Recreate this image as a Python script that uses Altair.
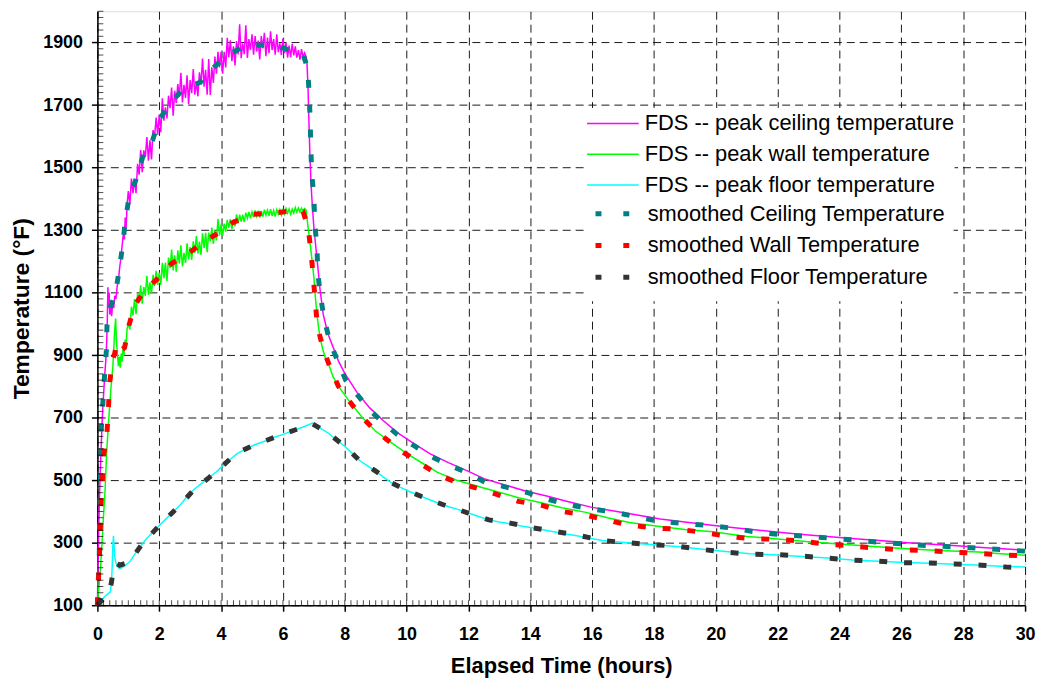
import altair as alt
import pandas as pd

# ---------------- series names / colours ----------------
fds_series = [
    "FDS -- peak ceiling temperature",
    "FDS -- peak wall temperature",
    "FDS -- peak floor temperature",
]
fds_colors = ["#FF00FF", "#00FF00", "#00FFFF"]
smooth_series = [
    "smoothed Ceiling Temperature",
    "smoothed Wall Temperature",
    "smoothed Floor Temperature",
]
smooth_colors = ["#008080", "#FF0000", "#333333"]

# ---------------- axis ticks ----------------
x_major = list(range(0, 31, 2))
y_major = list(range(100, 2000, 200))
x_minor = [round(i * 0.2, 1) for i in range(151)]
y_minor = list(range(100, 2001, 20))

# ---------------- FDS ceiling (noisy) ----------------
ceil_t_early = [0, 0.03, 0.06, 0.09, 0.12, 0.15, 0.18, 0.21, 0.24, 0.27, 0.30, 0.32, 0.34, 0.36, 0.38,
                0.40, 0.43, 0.46, 0.50, 0.53, 0.56, 0.60, 0.64, 0.68, 0.72, 0.76, 0.80, 0.84, 0.87,
                0.90, 0.93, 0.96]
ceil_v_early = [100, 280, 420, 520, 600, 680, 740, 790, 840, 880, 940, 1010, 1117, 1050, 1100,
                1030, 1060, 1025, 1070, 1050, 1090, 1080, 1120, 1140, 1180, 1210, 1250, 1290, 1270,
                1340, 1310, 1380]
noisy_t = [round(1.0 + 0.05 * i, 2) for i in range(115)]
ceil_v_noisy = [1425, 1383, 1465, 1418, 1460, 1418, 1512, 1477, 1556, 1485, 1555, 1534, 1598, 1522,
                1587, 1526, 1620, 1600, 1660, 1605, 1670, 1613, 1722, 1650, 1693, 1657, 1730, 1690,
                1756, 1666, 1746, 1707, 1767, 1727, 1803, 1708, 1765, 1723, 1795, 1703, 1780, 1738,
                1815, 1733, 1775, 1728, 1805, 1765, 1849, 1759, 1813, 1733, 1847, 1732, 1821, 1771,
                1855, 1800, 1870, 1820, 1870, 1800, 1870, 1820, 1915, 1853, 1907, 1840, 1888, 1827,
                1905, 1862, 1958, 1850, 1897, 1863, 1955, 1851, 1911, 1876, 1926, 1861, 1921, 1871,
                1906, 1846, 1921, 1881, 1931, 1856, 1916, 1866, 1936, 1876, 1911, 1861, 1926, 1869,
                1897, 1860, 1913, 1866, 1899, 1852, 1890, 1853, 1896, 1859, 1888, 1852, 1876, 1845,
                1879, 1853, 1867]
ceil_t_late = [6.75, 6.78, 6.81, 6.84, 6.87, 6.90, 6.93, 6.96, 7.00, 7.06, 7.12, 7.20, 7.30, 7.45,
               7.62, 7.80, 8.00, 8.40, 8.80, 9.25, 9.70, 10.25, 10.75, 11.35, 12.0, 12.5, 13.2, 13.9,
               14.5, 15.2, 16.0, 16.8, 17.5, 18.2, 19.0, 19.8, 20.6, 21.4, 22.2, 23.0, 23.8, 24.6,
               25.4, 26.2, 27.0, 27.8, 28.6, 29.4, 30.0]
ceil_v_late = [1855, 1830, 1760, 1650, 1550, 1470, 1410, 1365, 1310, 1250, 1191, 1110, 1032, 970,
               926, 880, 842, 780, 732, 690, 652, 616, 585, 556, 528, 505, 484, 464,
               450, 432, 413, 400, 388, 376, 366, 357, 348, 340, 332, 325, 318, 312,
               306, 300, 295, 290, 285, 280, 276]

# ---------------- FDS wall (noisy) ----------------
wall_t_early = [0, 0.05, 0.10, 0.15, 0.20, 0.25, 0.30, 0.35, 0.40, 0.45, 0.50, 0.53, 0.56, 0.59,
                0.62, 0.65, 0.68, 0.71, 0.74, 0.77, 0.80, 0.83, 0.86, 0.90, 0.93, 0.96]
wall_v_early = [100, 160, 220, 300, 390, 470, 590, 670, 740, 810, 863, 920, 980, 1017,
                940, 900, 865, 895, 860, 905, 880, 925, 900, 950, 930, 985]
wall_v_noisy = [1000, 982, 1055, 1027, 1079, 1031, 1099, 1071, 1123, 1065, 1118, 1090, 1154, 1093,
                1133, 1097, 1157, 1121, 1170, 1125, 1164, 1125, 1195, 1146, 1196, 1137, 1212, 1178,
                1238, 1171, 1219, 1167, 1235, 1193, 1251, 1184, 1227, 1195, 1258, 1206, 1246, 1205,
                1264, 1227, 1281, 1225, 1263, 1221, 1290, 1243, 1291, 1229, 1292, 1265, 1308, 1256,
                1299, 1267, 1335, 1283, 1318, 1282, 1321, 1295, 1333, 1307, 1335, 1303, 1335, 1312,
                1350, 1322, 1349, 1327, 1349, 1326, 1356, 1338, 1358, 1338, 1358, 1341, 1363, 1344,
                1362, 1340, 1361, 1343, 1365, 1348, 1364, 1346, 1367, 1345, 1363, 1343, 1366, 1351,
                1365, 1348, 1364, 1351, 1369, 1354, 1368, 1351, 1367, 1354, 1372, 1357, 1371, 1358,
                1370, 1361, 1369]
wall_t_late = [6.75, 6.80, 6.85, 6.90, 6.95, 7.00, 7.05, 7.10, 7.15, 7.20, 7.28, 7.36, 7.50, 7.62,
               7.79, 8.15, 8.54, 8.98, 9.45, 9.96, 10.5, 11.0, 11.62, 12.32, 12.96, 13.62, 14.35,
               15.02, 15.8, 16.5, 17.2, 18.0, 19.0, 19.9, 21.0, 22.0, 23.0, 24.2, 25.2, 26.3, 27.4,
               28.5, 29.2, 30.0]
wall_v_late = [1364, 1320, 1280, 1240, 1195, 1150, 1085, 1030, 990, 958, 921, 895, 865, 831,
               801, 752, 704, 658, 624, 588, 555, 525, 500, 480, 462, 444, 428,
               412, 397, 380, 365, 354, 342, 335, 320, 312, 303, 294, 287, 280, 274,
               270, 265, 260]

# ---------------- FDS floor ----------------
floor_t = [0, 0.10, 0.23, 0.35, 0.42, 0.46, 0.48, 0.50, 0.52, 0.54, 0.56, 0.60, 0.66, 0.72, 0.80,
           0.90, 1.04, 1.20, 1.41, 1.60, 1.84, 2.05, 2.27, 2.50, 2.70, 2.90, 3.13, 3.40, 3.61, 3.85,
           4.04, 4.30, 4.52, 4.80, 5.11, 5.45, 5.75, 6.05, 6.34, 6.65, 6.96, 7.05, 7.25, 7.46, 7.75,
           8.02, 8.25, 8.48, 8.75, 9.00, 9.25, 9.50, 9.80, 10.09, 10.40, 10.70, 11.00, 11.34, 11.70,
           12.00, 12.33, 12.66, 13.00, 13.39, 13.75, 14.11, 14.50, 15.00, 15.50, 16.00, 16.33, 17.13,
           17.91, 18.74, 19.51, 20.32, 21.10, 21.96, 22.81, 23.61, 24.42, 25.24, 26.08, 26.92, 27.74,
           28.59, 29.39, 30.0]
floor_v = [100, 112, 127, 137, 143, 180, 227, 290, 322, 290, 255, 235, 222, 217, 220,
           228, 238, 262, 291, 314, 338, 360, 381, 403, 423, 448, 471, 492, 508, 527,
           545, 567, 585, 600, 614, 626, 638, 648, 659, 670, 683, 678, 664, 651, 627,
           607, 585, 563, 545, 529, 510, 492, 477, 464, 451, 439, 428, 416, 405,
           395, 384, 373, 366, 360, 353, 347, 340, 330, 322, 313, 307, 300,
           294, 288, 280, 272, 265, 261, 256, 251, 245, 241, 237, 234, 231,
           228, 224, 222]

# ---------------- smoothed curves ----------------
sc_t = [0, 0.03, 0.06, 0.074, 0.085, 0.10, 0.12, 0.13, 0.18, 0.23, 0.29, 0.31, 0.42, 0.59, 0.72, 0.82,
        0.91, 1.02, 1.25, 1.47, 1.79, 2.00, 2.32, 2.75, 3.34, 3.77, 4.20, 4.79, 5.38, 5.80, 6.43, 6.65,
        6.80, 6.85, 6.88, 6.90, 6.93, 7.00, 7.03, 7.10, 7.13, 7.22, 7.34, 7.52, 7.76, 8.03, 8.41, 8.78,
        9.23, 9.70, 10.23, 10.76, 11.34, 11.96, 12.53, 13.22, 13.92, 14.53, 15.21, 15.98, 16.76, 17.51,
        18.21, 19.00, 19.81, 20.58, 21.37, 22.14, 23.00, 23.78, 24.56, 25.35, 26.18, 27.00, 27.82,
        28.65, 29.48, 30.0]
sc_v = [100, 180, 259, 344, 439, 513, 590, 670, 752, 831, 916, 995, 1053, 1101, 1180, 1255,
        1334, 1403, 1463, 1535, 1589, 1652, 1703, 1748, 1774, 1821, 1859, 1890, 1892, 1890, 1867, 1862,
        1818, 1732, 1655, 1570, 1482, 1408, 1323, 1244, 1161, 1085, 1013, 942, 884, 820, 773, 727,
        685, 646, 611, 577, 550, 524, 494, 478, 460, 440, 422, 408, 397, 381,
        368, 361, 355, 346, 333, 325, 320, 314, 308, 301, 295, 290, 286,
        282, 276, 273]
sw_t = [0, 0.03, 0.06, 0.09, 0.11, 0.16, 0.20, 0.26, 0.31, 0.36, 0.40, 0.50, 0.56, 0.62, 0.75, 0.88,
        1.02, 1.20, 1.55, 2.00, 2.40, 2.93, 3.45, 3.93, 4.34, 4.95, 5.73, 6.53, 6.65, 6.82, 6.91,
        6.98, 7.04, 7.12, 7.30, 7.52, 7.79, 8.15, 8.54, 8.99, 9.45, 9.96, 10.50, 11.00, 11.62, 12.32,
        12.96, 13.62, 14.35, 15.02, 15.80, 16.50, 17.21, 18.01, 18.82, 19.57, 20.34, 21.10, 21.93,
        22.78, 23.53, 24.37, 25.17, 26.00, 26.82, 27.65, 28.46, 29.28, 30.0]
sw_v = [100, 169, 243, 328, 413, 492, 577, 620, 651, 736, 815, 889, 905, 937, 915, 924,
        995, 1059, 1110, 1149, 1193, 1225, 1263, 1292, 1322, 1350, 1355, 1364, 1360, 1306, 1226,
        1154, 1075, 990, 921, 862, 801, 752, 704, 658, 623, 585, 550, 519, 492, 473,
        453, 432, 420, 400, 388, 372, 356, 347, 343, 333, 321, 313, 311,
        305, 296, 290, 282, 278, 275, 270, 266, 261, 258]
sf_t = [0, 0.20, 0.34, 0.45, 0.50, 0.59, 0.72, 1.04, 1.41, 1.84, 2.27, 2.70, 3.13, 3.61, 4.04, 4.52,
        5.11, 5.75, 6.34, 6.96, 7.46, 8.02, 8.48, 9.00, 9.50, 10.09, 10.70, 11.34, 12.00, 12.66,
        13.39, 14.11, 14.80, 15.50, 16.33, 17.13, 17.91, 18.74, 19.51, 20.32, 21.10, 21.96, 22.81,
        23.61, 24.42, 25.24, 26.08, 26.92, 27.74, 28.59, 29.39, 30.0]
sf_v = [100, 122, 132, 170, 206, 235, 228, 238, 291, 338, 381, 423, 471, 508, 545, 588,
        614, 638, 659, 680, 651, 607, 563, 529, 492, 464, 439, 416, 395, 373,
        362, 347, 336, 325, 307, 300, 294, 289, 279, 270, 263, 262, 257,
        251, 244, 241, 236, 235, 232, 228, 222, 221]

# ---------------- tables ----------------
def frame(name, t, v):
    return pd.DataFrame({"t": t, "T": v, "series": name})

fds = pd.concat([
    frame(fds_series[0], ceil_t_early + noisy_t + ceil_t_late, ceil_v_early + ceil_v_noisy + ceil_v_late),
    frame(fds_series[1], wall_t_early + noisy_t + wall_t_late, wall_v_early + wall_v_noisy + wall_v_late),
    frame(fds_series[2], floor_t, floor_v),
], ignore_index=True)
smooth = pd.concat([
    frame(smooth_series[0], sc_t, sc_v),
    frame(smooth_series[1], sw_t, sw_v),
    frame(smooth_series[2], sf_t, sf_v),
], ignore_index=True)

FONT = "Liberation Sans"

xscale = alt.Scale(domain=[0, 30], nice=False, zero=False)
yscale = alt.Scale(domain=[100, 2000], nice=False, zero=False)

legend_common = dict(
    title=None, orient="none", symbolType="stroke",
    labelFont=FONT, labelFontSize=22, labelColor="black", labelOffset=5, labelLimit=500,
    rowPadding=0, fillColor="white",
)
legend_fds = alt.Legend(legendX=492, legendY=97.5, padding=0, zindex=2, clipHeight=31,
                        symbolSize=2704, symbolStrokeWidth=1.5, **legend_common)
legend_smooth = alt.Legend(legendX=491, legendY=180, padding=8, zindex=1, clipHeight=31.5,
                           symbolSize=2025, symbolStrokeWidth=5, symbolDash=[6, 22],
                           **legend_common)

x_enc = alt.X("t:Q", scale=xscale, axis=alt.Axis(
    values=x_major, format="d", title="Elapsed Time (hours)", grid=True, gridColor="black",
    gridDash=[8, 5], gridWidth=1, gridOpacity=0.9, domainColor="black", domainWidth=1.5,
    tickColor="black", tickSize=6, tickWidth=1.5, labelFont=FONT, labelFontSize=18,
    labelFontWeight="bold", labelColor="black", labelPadding=14, labelFlush=False,
    labelOverlap=False, titleFont=FONT, titleFontSize=22, titleFontWeight="bold",
    titleColor="black", titlePadding=13))
y_enc = alt.Y("T:Q", scale=yscale, axis=alt.Axis(
    values=y_major, format="d", title="Temperature (°F)", grid=True, gridColor="black",
    gridDash=[8, 5], gridWidth=1, gridOpacity=0.9, domainColor="black", domainWidth=1.5,
    tickColor="black", tickSize=6, tickWidth=1.5, labelFont=FONT, labelFontSize=18,
    labelFontWeight="bold", labelColor="black", labelPadding=9, labelOverlap=False,
    titleFont=FONT, titleFontSize=23, titleFontWeight="bold", titleColor="black",
    titlePadding=9))

fds_layer = alt.Chart(fds).mark_line(strokeWidth=1.5).encode(
    x=x_enc, y=y_enc,
    color=alt.Color("series:N", scale=alt.Scale(domain=fds_series, range=fds_colors),
                    legend=legend_fds),
)
smooth_layer = alt.Chart(smooth).mark_line(strokeWidth=5, strokeDash=[8, 17], strokeCap="butt").encode(
    x=alt.X("t:Q", scale=xscale), y=alt.Y("T:Q", scale=yscale),
    color=alt.Color("series:N", scale=alt.Scale(domain=smooth_series, range=smooth_colors),
                    legend=legend_smooth),
)

xminor_layer = alt.Chart(pd.DataFrame({"t": x_minor})).mark_tick(
    orient="vertical", size=5, thickness=1, color="black", yOffset=-2.5
).encode(x=alt.X("t:Q", scale=xscale), y=alt.datum(100))
yminor_layer = alt.Chart(pd.DataFrame({"T": y_minor})).mark_tick(
    orient="horizontal", size=6, thickness=1, color="black", xOffset=3
).encode(y=alt.Y("T:Q", scale=yscale), x=alt.datum(0))

chart = alt.layer(fds_layer, smooth_layer, xminor_layer, yminor_layer).resolve_scale(
    color="independent"
).resolve_legend(color="independent").properties(
    width=934, height=598,
    autosize=alt.AutoSizeParams(type="none"),
    padding={"left": 90, "top": 1, "right": 12, "bottom": 76},
).configure_view(stroke="#999999", strokeWidth=1.5).configure(background="white")

chart.save("out.html", embed_options={"renderer": "svg", "actions": False})
